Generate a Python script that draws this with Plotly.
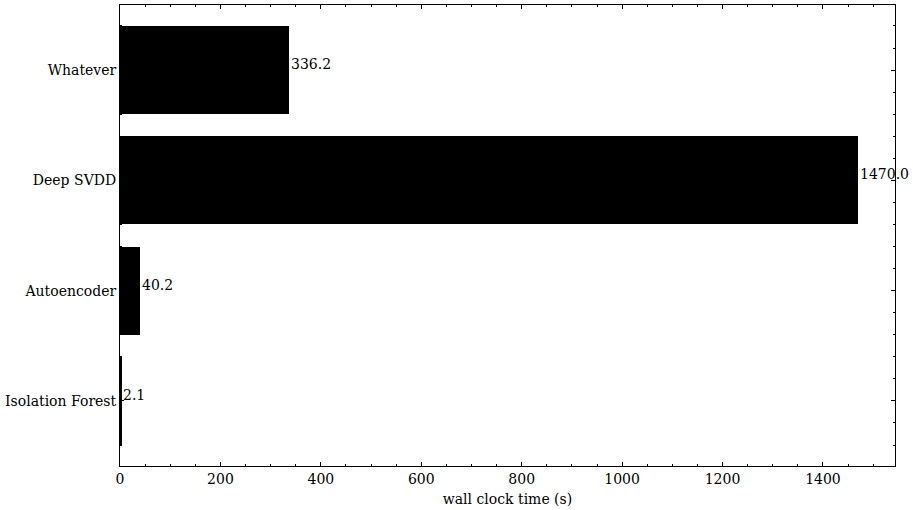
import plotly.graph_objects as go

methods = ["Isolation Forest", "Autoencoder", "Deep SVDD", "Whatever"]
times = [2.1, 40.2, 1470.0, 336.2]
xticks = [0, 200, 400, 600, 800, 1000, 1200, 1400]

pos = list(range(len(methods)))
font = dict(family="DejaVu Serif", size=14, color="black")

fig = go.Figure()
fig.add_trace(go.Bar(y=pos, x=times, orientation="h", width=0.8,
                     marker=dict(color="black", line=dict(width=0))))

for p, t in zip(pos, times):
    fig.add_annotation(x=t, y=p, text=f"{t:.1f}", showarrow=False,
                       xanchor="left", yanchor="bottom", xshift=1, yshift=-3,
                       borderpad=0, font=font)

axis_common = dict(showline=True, linecolor="black", linewidth=1, mirror="ticks",
                   ticks="inside", ticklen=4, tickwidth=1, tickcolor="black",
                   showgrid=False, zeroline=False, tickfont=font, automargin=False)

fig.update_xaxes(range=[0, 1543.5], tickvals=xticks,
                 title=dict(text="wall clock time (s)", font=font, standoff=8),
                 minor=dict(dtick=50, tick0=0, ticks="inside", ticklen=2,
                            tickcolor="black", tickwidth=1),
                 **axis_common)
fig.update_yaxes(range=[-0.59, 3.59], tickvals=pos, ticktext=methods,
                 minor=dict(dtick=0.2, tick0=0, ticks="inside", ticklen=2,
                            tickcolor="black", tickwidth=1),
                 **axis_common)

fig.update_layout(width=913, height=510, margin=dict(l=120, r=18, t=5, b=44),
                  plot_bgcolor="white", paper_bgcolor="white", showlegend=False,
                  font=font, bargap=0)
fig.write_html("out.html", config={"displayModeBar": False},
               post_script="document.body.style.margin='0';document.body.style.overflow='hidden';")
